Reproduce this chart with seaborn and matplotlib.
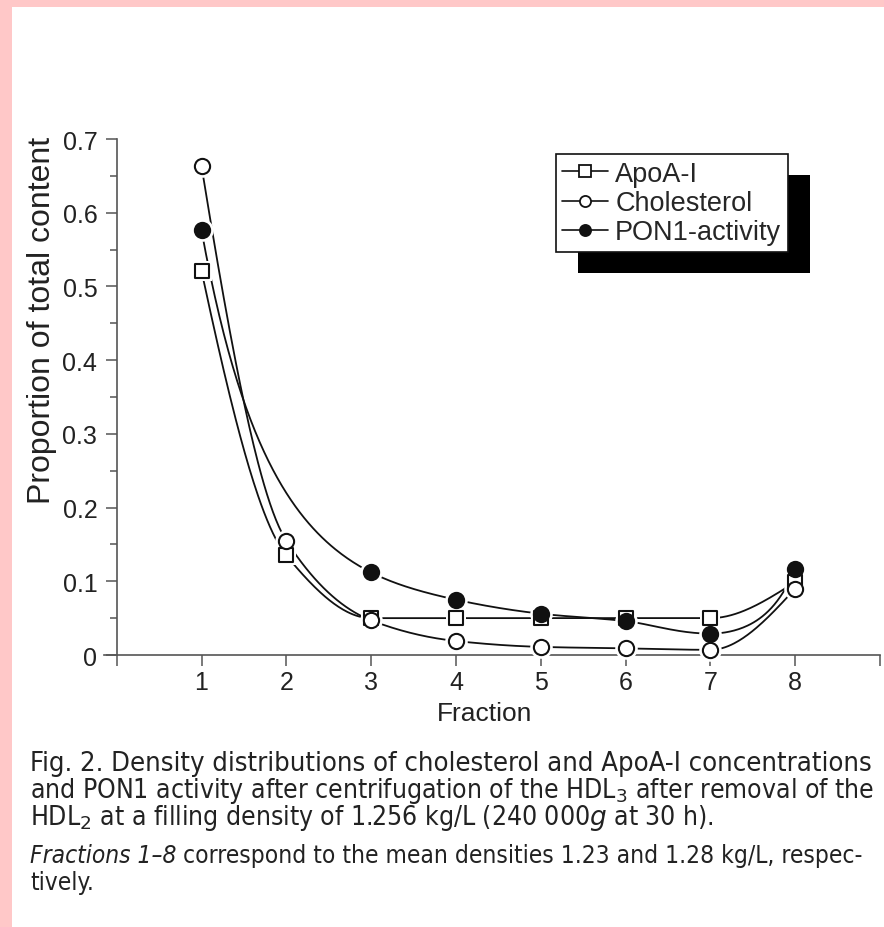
import numpy as np
import pandas as pd
import matplotlib
matplotlib.use('Agg')
import matplotlib.pyplot as plt
import seaborn as sns
from matplotlib.lines import Line2D
from matplotlib.patches import Rectangle
from matplotlib.ticker import MultipleLocator, FuncFormatter

# --- data ---
fractions = [1, 2, 3, 4, 5, 6, 7, 8]
apoa = [0.521, 0.135, 0.050, 0.050, 0.050, 0.050, 0.050, 0.099]
chol = [0.663, 0.155, 0.047, 0.019, 0.011, 0.009, 0.007, 0.090]
pon1 = [0.576, np.nan, 0.112, 0.075, 0.056, 0.046, 0.029, 0.117]
series = ['ApoA-I', 'Cholesterol', 'PON1-activity']
x_tick_labels = ['', '1', '2', '3', '4', '5', '6', '7', '8', '']

sns.set_theme(style='ticks')
plt.rcParams['font.family'] = ['Liberation Sans', 'DejaVu Sans']

df = pd.DataFrame({'Fraction': fractions * 3,
                   'value': apoa + chol + pon1,
                   'series': np.repeat(series, len(fractions))})


def pchip(x, y, xs):
    # shape preserving cubic, like the spline connection of the original plot
    x = np.asarray(x, float)
    y = np.asarray(y, float)
    h = np.diff(x)
    d = np.diff(y) / h
    n = len(x)
    m = np.zeros(n)
    for k in range(1, n - 1):
        if d[k - 1] * d[k] > 0:
            w1 = 2 * h[k] + h[k - 1]
            w2 = h[k] + 2 * h[k - 1]
            m[k] = (w1 + w2) / (w1 / d[k - 1] + w2 / d[k])

    def end(h0, h1, d0, d1):
        mm = ((2 * h0 + h1) * d0 - h0 * d1) / (h0 + h1)
        if np.sign(mm) != np.sign(d0):
            return 0.0
        if np.sign(d0) != np.sign(d1) and abs(mm) > abs(3 * d0):
            return 3 * d0
        return mm

    m[0] = end(h[0], h[1], d[0], d[1])
    m[-1] = end(h[-1], h[-2], d[-1], d[-2])
    i = np.clip(np.searchsorted(x, xs) - 1, 0, n - 2)
    t = (xs - x[i]) / h[i]
    return ((2 * t**3 - 3 * t**2 + 1) * y[i] + (t**3 - 2 * t**2 + t) * h[i] * m[i]
            + (-2 * t**3 + 3 * t**2) * y[i + 1] + (t**3 - t**2) * h[i] * m[i + 1])


curves = []
for name in series:
    sub = df[df['series'] == name].dropna()
    xs = np.linspace(sub['Fraction'].min(), sub['Fraction'].max(), 400)
    if name == 'PON1-activity':
        ys = np.exp(pchip(sub['Fraction'], np.log(sub['value']), xs))
    else:
        ys = pchip(sub['Fraction'], sub['value'], xs)
    curves.append(pd.DataFrame({'Fraction': xs, 'value': ys, 'series': name}))
curve_df = pd.concat(curves, ignore_index=True)

fig = plt.figure(figsize=(8.84, 9.28), dpi=100, facecolor='white')
ax = fig.add_axes([104 / 884, 272 / 928, 776 / 884, 516 / 928])

sns.lineplot(data=curve_df, x='Fraction', y='value', hue='series',
             palette=['#111111'] * 3, estimator=None, sort=False,
             linewidth=1.3, legend=False, ax=ax, zorder=2)

styles = {'ApoA-I': ('s', 'white', 95), 'Cholesterol': ('o', 'white', 120),
          'PON1-activity': ('o', '#111111', 120)}
for name in series:
    sub = df[df['series'] == name].dropna()
    mk, face, size = styles[name]
    sns.scatterplot(data=sub, x='Fraction', y='value', marker=mk, s=size * 2.2,
                    color='white', linewidth=0, ax=ax, zorder=3, clip_on=False)
for name in series:
    sub = df[df['series'] == name].dropna()
    mk, face, size = styles[name]
    sns.scatterplot(data=sub, x='Fraction', y='value', marker=mk, s=size,
                    facecolor=face, edgecolor='#111111', linewidth=1.5,
                    ax=ax, zorder=4, clip_on=False)

ax.set_xlim(-0.15, 9)
ax.set_ylim(0, 0.7)
ax.spines['left'].set_position(('data', 0))
ax.spines['top'].set_visible(False)
ax.spines['right'].set_visible(False)
for sp in ['left', 'bottom']:
    ax.spines[sp].set_color('#555555')
    ax.spines[sp].set_linewidth(1.2)
ax.set_xticks(range(10))
ax.set_xticklabels(x_tick_labels)
ax.yaxis.set_major_locator(MultipleLocator(0.1))
ax.yaxis.set_minor_locator(MultipleLocator(0.05))
ax.yaxis.set_major_formatter(FuncFormatter(lambda v, _: '0' if abs(v) < 1e-9 else f'{v:.1f}'))
ax.tick_params(which='major', direction='out', length=8, width=1.1, color='#555555',
               labelsize=18, labelcolor='#222222', pad=6)
ax.tick_params(which='minor', direction='out', length=5, width=1.1, color='#555555')
ax.tick_params(axis='x', pad=3)

ax.set_xlabel('Fraction', fontsize=19, color='#222222')
ax.xaxis.set_label_coords(0.49, -0.112)
ax.xaxis.label.set_va('center')
ax.set_ylabel('Proportion of total content', fontsize=23, color='#222222')
ax.yaxis.set_label_coords(-0.080, 0.651)
ax.yaxis.label.set_va('center')

handles = [Line2D([], [], color='#111111', lw=1.2, marker=styles[n][0], markersize=8,
                  markerfacecolor=styles[n][1], markeredgecolor='#111111',
                  markeredgewidth=1.3) for n in series]
leg = ax.legend(handles, series, loc='upper left', bbox_to_anchor=(0.582, 0.971),
                borderaxespad=0, frameon=True, fancybox=False, fontsize=19.5,
                handlelength=1.7, handletextpad=0.25, labelspacing=0.12,
                borderpad=0.25, framealpha=1)
leg.get_frame().set_edgecolor('#111111')
leg.get_frame().set_linewidth(1.2)
leg.set_zorder(6)

# offset black shadow behind the legend box
fig.canvas.draw()
bb = leg.get_window_extent().transformed(fig.transFigure.inverted())
ax.add_patch(Rectangle((bb.x0 + 22 / 884, bb.y0 - 21 / 928), bb.width, bb.height,
                       transform=fig.transFigure, facecolor='black',
                       edgecolor='none', zorder=5.5, clip_on=False))

# pink page border
fig.patches.append(Rectangle((0, 0), 12 / 884, 1, transform=fig.transFigure,
                             facecolor='#ffc8c8', edgecolor='none'))
fig.patches.append(Rectangle((0, 1 - 8 / 928), 1, 8 / 928, transform=fig.transFigure,
                             facecolor='#ffc8c8', edgecolor='none'))

cap = dict(family=['DejaVu Sans'], fontstretch='condensed', color='#222222', va='center')
fig.text(30 / 884, 1 - 764 / 928,
         'Fig. 2. Density distributions of cholesterol and ApoA-I concentrations',
         fontsize=19.6, **cap)
fig.text(30 / 884, 1 - 791 / 928,
         'and PON1 activity after centrifugation of the HDL$_3$ after removal of the',
         fontsize=19, **cap)
fig.text(30 / 884, 1 - 818 / 928,
         'HDL$_2$ at a filling density of 1.256 kg/L (240 000$g$ at 30 h).',
         fontsize=19, **cap)
t4 = fig.text(30 / 884, 1 - 856 / 928, 'Fractions 1\u20138', style='italic',
              fontsize=17.6, **cap)
ax.annotate(' correspond to the mean densities 1.23 and 1.28 kg/L, respec-',
            xy=(1, 0), xycoords=t4, va='bottom', ha='left',
            family=['DejaVu Sans'], fontstretch='condensed', fontsize=17.6,
            color='#222222')
fig.text(30 / 884, 1 - 883 / 928, 'tively.', fontsize=17.6, **cap)

fig.savefig('out.png', dpi=100, facecolor='white')
